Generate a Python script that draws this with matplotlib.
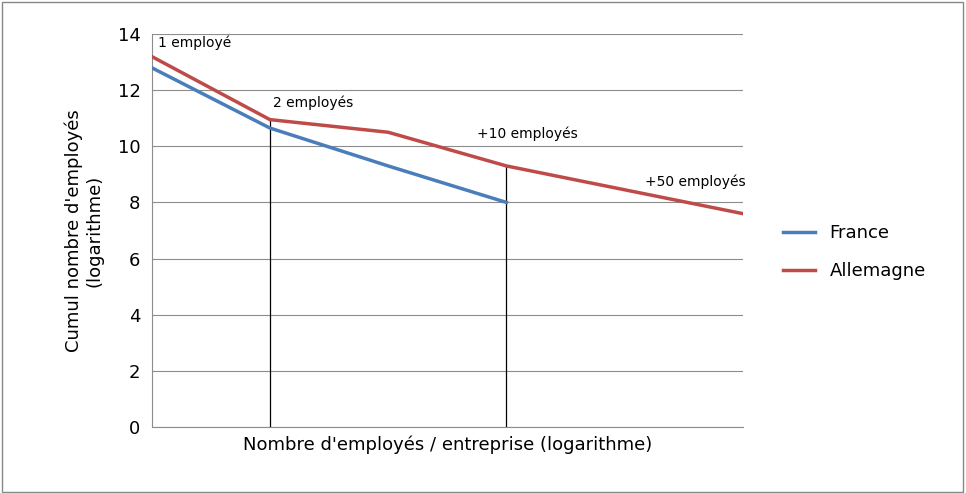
import matplotlib.pyplot as plt
from matplotlib.patches import Rectangle

x_france = [0, 1, 2, 3]
france = [12.8, 10.65, 9.3, 8.0]
x_allemagne = [0, 1, 2, 3, 4, 5]
allemagne = [13.2, 10.95, 10.5, 9.3, 8.45, 7.6]
labels = ["1 employé", "2 employés", "+10 employés", "+50 employés"]
label_pos = [(0.05, 13.55), (1.03, 11.4), (2.75, 10.3), (4.17, 8.6)]

fig = plt.figure(figsize=(9.66, 4.93), dpi=100)
ax = fig.add_axes([0.157, 0.134, 0.612, 0.797])
fig.patches.append(Rectangle((0.002, 0.003), 0.995, 0.993, transform=fig.transFigure,
                             fill=False, edgecolor="#888888", lw=1))

ax.plot(x_france, france, color="#4a7ebb", lw=2.5, label="France", zorder=3)
ax.plot(x_allemagne, allemagne, color="#be4b48", lw=2.5, label="Allemagne", zorder=3)
ax.vlines([1, 3], 0, [allemagne[1], allemagne[3]], color="black", lw=0.9, zorder=2)
for txt, (tx, ty) in zip(labels, label_pos):
    ax.text(tx, ty, txt, fontsize=10)

ax.set_xlim(0, 5)
ax.set_ylim(0, 14)
ax.set_yticks(range(0, 15, 2))
ax.set_xticks([])
ax.tick_params(axis="y", labelsize=13, length=0, pad=8)
ax.yaxis.grid(True, color="#8c8c8c", lw=0.8)
ax.set_axisbelow(True)
for s in ["top", "right"]:
    ax.spines[s].set_visible(False)
ax.spines["left"].set_color("#8c8c8c")
ax.spines["bottom"].set_color("#8c8c8c")
ax.set_xlabel("Nombre d'employés / entreprise (logarithme)", fontsize=13, labelpad=6)
ax.set_ylabel("Cumul nombre d'employés\n(logarithme)", fontsize=13, labelpad=10)
ax.legend(loc="center left", bbox_to_anchor=(1.04, 0.445), frameon=False, fontsize=13,
          handlelength=1.8, labelspacing=1.1)

fig.savefig("out.png", dpi=100)
